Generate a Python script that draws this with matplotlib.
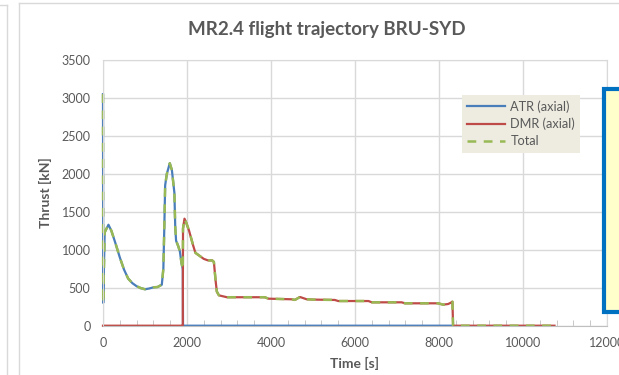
import matplotlib.pyplot as plt
import numpy as np
from matplotlib.patches import Rectangle
from matplotlib.lines import Line2D

plt.rcParams['font.family'] = ['Lato', 'DejaVu Sans']

# thrust history, sampled on one common time grid [s]
time = [0, 5, 40, 130, 200, 300, 400, 500, 600, 700, 800, 900, 1000, 1100, 1200,
        1300, 1400, 1437, 1460, 1480, 1520, 1590, 1640, 1680, 1700, 1720, 1740,
        1790, 1830, 1870, 1895, 1900, 1905, 1940, 1980, 2050, 2150, 2200, 2300,
        2400, 2500, 2600, 2640, 2680, 2710, 2760, 2950, 3850, 3940, 4490, 4570,
        4690, 4850, 5010, 5520, 5600, 6320, 6400, 7110, 7190, 7980, 8100, 8220,
        8280, 8320, 8335, 10750]

# ATR (axial) [kN], no data after 8335 s
atr = [3050, 300, 1230, 1330, 1250, 1080, 900, 740, 620, 560, 520, 495, 480, 490, 505,
       510, 540, 750, 1300, 1850, 2000, 2140, 2050, 1850, 1750, 1300, 1120,
       1050, 980, 820, 760, 740, 0, 0, 0, 0, 0, 0, 0,
       0, 0, 0, 0, 0, 0, 0, 0, 0, 0, 0, 0,
       0, 0, 0, 0, 0, 0, 0, 0, 0, 0, 0, 0,
       0, 0, 0, np.nan]

# DMR (axial) [kN]
dmr = [0, 0, 0, 0, 0, 0, 0, 0, 0, 0, 0, 0, 0, 0, 0,
       0, 0, 0, 0, 0, 0, 0, 0, 0, 0, 0, 0,
       0, 0, 0, 0, 0, 1280, 1410, 1360, 1250, 1050, 960, 920,
       880, 860, 860, 840, 600, 450, 400, 375, 375, 356, 348, 340,
       378, 348, 344, 339, 325, 325, 308, 308, 295, 295, 277, 286,
       303, 316, 0, 0]

time = np.array(time)
atr = np.array(atr, dtype=float)
dmr = np.array(dmr, dtype=float)
total = np.nansum([atr, dmr], axis=0)

grey_txt = '#595959'
grid_col = '#D9D9D9'

fig = plt.figure(figsize=(6.19, 3.75), dpi=100)
ax = fig.add_axes([103/619, 1-325.7/375, 504/619, 265.7/375])

ax.plot(time, atr, color='#4A7EBB', lw=1.6, clip_on=False, label='ATR (axial)')
ax.plot(time, dmr, color='#BE4B48', lw=1.6, clip_on=False, label='DMR (axial)')
ax.plot(time, total, color='#98B954', lw=1.8, dashes=(3.5, 3), clip_on=False, label='Total')

ax.set_xlim(0, 12000)
ax.set_ylim(0, 3500)
ax.set_xticks(np.arange(0, 12001, 2000))
ax.set_yticks(np.arange(0, 3501, 500))
ax.set_xticks(np.arange(0, 12001, 400), minor=True)
ax.grid(True, which='major', color=grid_col, lw=1)
ax.set_axisbelow(True)
for s in ax.spines.values():
    s.set_color(grid_col)
ax.spines['bottom'].set_color('#BFBFBF')
ax.tick_params(which='major', length=0, labelsize=9, labelcolor=grey_txt)
ax.tick_params(axis='x', which='major', pad=8)
ax.tick_params(axis='y', which='major', pad=9)
ax.tick_params(axis='x', which='minor', direction='in', length=4, color='#BFBFBF')

ax.set_xlabel('Time [s]', fontsize=10, fontweight='bold', color=grey_txt, labelpad=6)
ax.set_ylabel('Thrust [kN]', fontsize=10, fontweight='bold', color=grey_txt, labelpad=7)
fig.text(0.528, 1-29/375, 'MR2.4 flight trajectory BRU-SYD', ha='center', va='center',
         fontsize=13.5, fontweight='bold', color=grey_txt)

handles = [Line2D([], [], color='#4A7EBB', lw=1.6),
           Line2D([], [], color='#BE4B48', lw=1.6),
           Line2D([], [], color='#98B954', lw=1.8, dashes=(3.5, 3))]
leg = ax.legend(handles, ['ATR (axial)', 'DMR (axial)', 'Total'],
                loc='upper left', bbox_to_anchor=(0.712, 0.868), fontsize=9.2,
                frameon=True, fancybox=False, handlelength=3.0, handletextpad=0.4,
                labelspacing=0.4, borderpad=0.4, borderaxespad=0)
leg.get_frame().set_facecolor('#EEECE1')
leg.get_frame().set_edgecolor('none')
leg.get_frame().set_alpha(1)
for t in leg.get_texts():
    t.set_color(grey_txt)

# chart frame and the neighbouring shapes on the sheet
fig.add_artist(Line2D([19/619, 19/619], [0, 1-3/375], color=grid_col, lw=1))
fig.add_artist(Line2D([19/619, 1], [1-3/375, 1-3/375], color=grid_col, lw=1))
fig.add_artist(Line2D([7/619, 7/619], [0, 1-5/375], color=grid_col, lw=1))
fig.add_artist(Line2D([0, 7/619], [1-5/375, 1-5/375], color=grid_col, lw=1))
fig.add_artist(Rectangle((604/619, 1-312/375), 30/619, 223/375, transform=fig.transFigure,
                         facecolor='#FFFFCC', edgecolor='#0070C0', lw=3, zorder=10))

fig.savefig('out.png', dpi=100)
